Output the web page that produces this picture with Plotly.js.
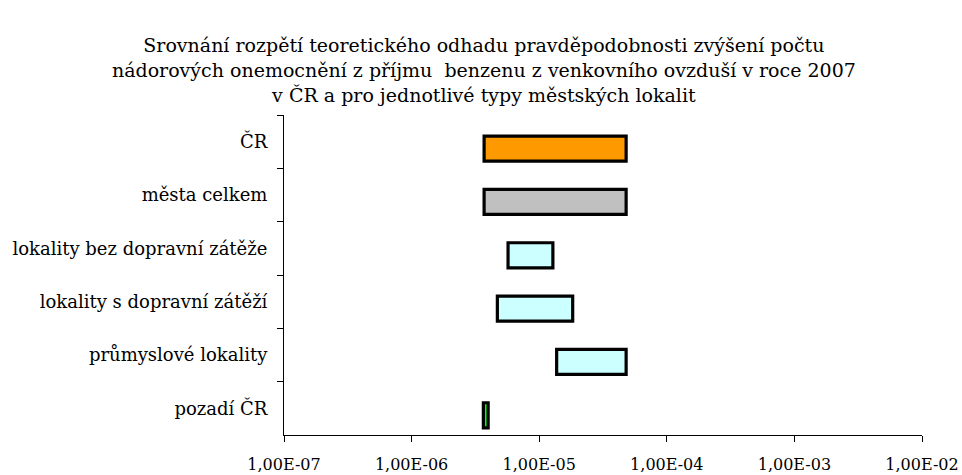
<!DOCTYPE html>
<html>
<head>
<meta charset="utf-8">
<script src="https://cdn.plot.ly/plotly-3.0.1.min.js"></script>
<style>html,body{margin:0;padding:0;background:#fff;}#chart{width:962px;height:475px;}</style>
</head>
<body>
<div id="chart"></div>
<script>
const categories = ["ČR", "města celkem", "lokality bez dopravní zátěže", "lokality s dopravní zátěží", "průmyslové lokality", "pozadí ČR"];
const lowValues  = [3.7e-6, 3.7e-6, 5.7e-6, 4.7e-6, 1.37e-5, 3.65e-6];
const highValues = [4.8e-5, 4.8e-5, 1.28e-5, 1.83e-5, 4.8e-5, 3.98e-6];
const barColors  = ["#FF9900", "#C0C0C0", "#CCFFFF", "#CCFFFF", "#CCFFFF", "#00FF00"];
const tickValues = [1e-7, 1e-6, 1e-5, 1e-4, 1e-3, 1e-2];
const tickLabels = ["1,00E-07", "1,00E-06", "1,00E-05", "1,00E-04", "1,00E-03", "1,00E-02"];
const gridValues = [1e-6, 1e-5, 1e-4, 1e-3];

const widths = highValues.map((h, i) => h - lowValues[i]);
const font = "DejaVu Serif, Liberation Serif, serif";

const trace = {
  type: "bar",
  orientation: "h",
  y: categories,
  x: widths,
  base: lowValues,
  width: 0.47,
  offset: -0.105,
  marker: { color: barColors, line: { color: "#000", width: 3.2 } },
  hoverinfo: "skip"
};

const layout = {
  width: 962, height: 475,
  margin: { l: 284, r: 40, t: 115, b: 40 },
  paper_bgcolor: "#fff", plot_bgcolor: "#fff",
  showlegend: false,
  font: { family: font, size: 16, color: "#000" },
  title: {
    text: "Srovnání rozpětí teoretického odhadu pravděpodobnosti zvýšení počtu<br>nádorových onemocnění z příjmu \u00a0benzenu z venkovního ovzduší v roce 2007<br>v ČR a pro jednotlivé typy městských lokalit",
    font: { family: font, size: 19, color: "#000" },
    x: 0.503, xanchor: "center", y: 0.89, yanchor: "top"
  },
  xaxis: {
    type: "log",
    range: [-7, -2],
    tickvals: tickValues,
    ticktext: tickLabels,
    ticks: "outside", ticklen: 6, tickwidth: 1, tickcolor: "#000",
    showline: true, linecolor: "#000", linewidth: 1,
    showgrid: false,
    zeroline: false,
    ticklabelstandoff: 9,
    tickfont: { family: font, size: 16, color: "#000" }
  },
  xaxis2: {
    type: "log",
    overlaying: "x",
    range: [-7, -2],
    tickvals: gridValues,
    showticklabels: false,
    ticks: "",
    showline: false,
    showgrid: true, gridcolor: "#222", gridwidth: 1,
    zeroline: false,
    layer: "below traces"
  },
  yaxis: {
    type: "category",
    categoryorder: "array", categoryarray: categories,
    autorange: "reversed",
    tickson: "boundaries",
    ticks: "outside", ticklen: 6, tickwidth: 1, tickcolor: "#000",
    showline: true, linecolor: "#000", linewidth: 1,
    showgrid: false, zeroline: false,
    ticklabelstandoff: 12,
    tickfont: { family: font, size: 18, color: "#000" }
  }
};

Plotly.newPlot("chart", [trace], layout, { displayModeBar: false, staticPlot: true });
</script>
</body>
</html>
